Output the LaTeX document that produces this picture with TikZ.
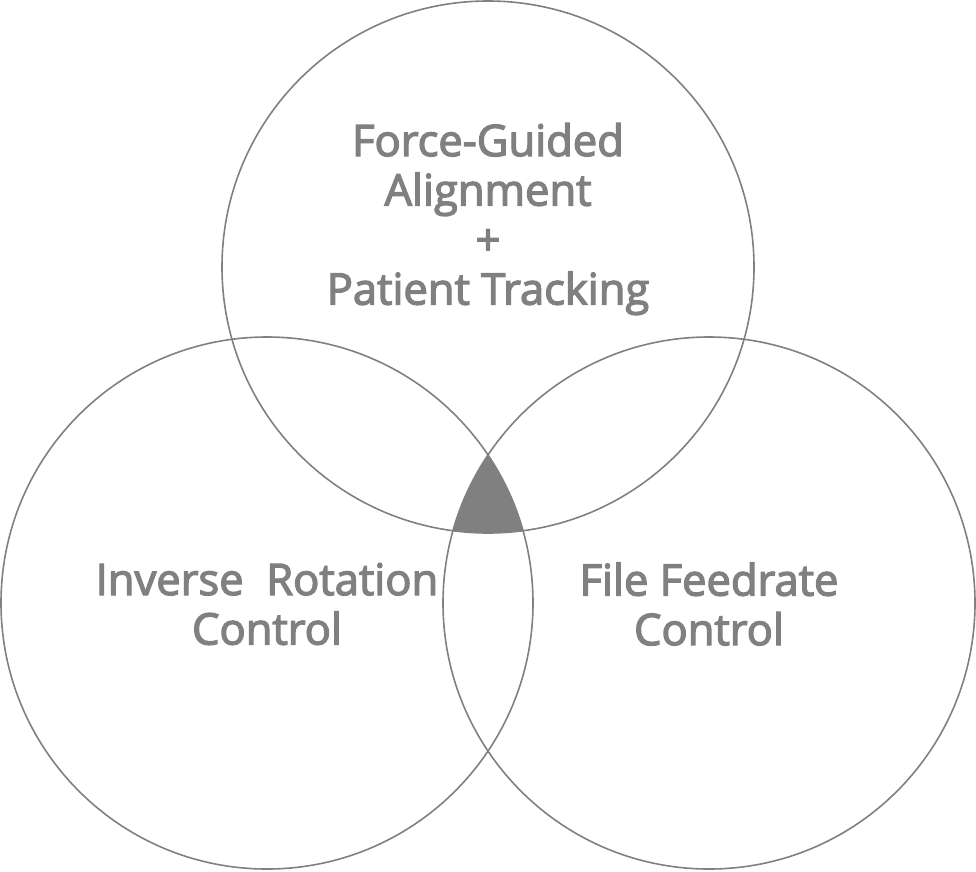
\documentclass[tikz,border=0pt]{standalone}
\usepackage{fontspec}
\setmainfont{Open Sans}
\newfontfamily\vennfont{Open Sans}[FakeBold=3]
\definecolor{venngray}{HTML}{808080}
\begin{document}
\begin{tikzpicture}[x=1pt, y=-1pt,
        ring/.style = {draw = venngray, line width = 1.6pt},
        label/.style = {text = venngray, align = center, inner sep = 0pt,
            font = \vennfont\fontsize{43.5}{49.5}\selectfont}]
        \useasboundingbox (0, 0) rectangle (976, 871);
        % triple overlap
        \begin{scope}
            \clip (488, 267) circle (266);
            \clip (267, 603) circle (266);
            \fill[venngray] (709, 603) circle (266);
        \end{scope}
        \draw[ring] (488, 267) circle (266);
        \draw[ring] (267, 603) circle (266);
        \draw[ring] (709, 603) circle (266);
        \node[label] (force) at (488, 219) {Force-Guided\\Alignment\\+\\Patient Tracking};
        \node[label] (inverse) at (267, 604) {Inverse~~Rotation\\Control};
        \node[label] (feed) at (709, 604) {File Feedrate\\Control};
    \end{tikzpicture}
\end{document}
